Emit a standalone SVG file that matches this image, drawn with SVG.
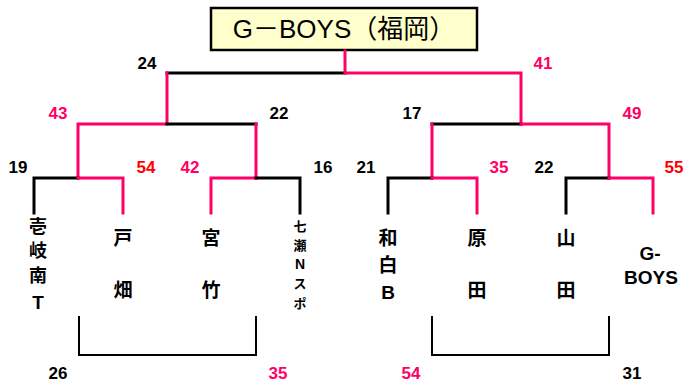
<svg xmlns="http://www.w3.org/2000/svg" width="684" height="385" viewBox="0 0 684 385">
<style>
.k{stroke:#000;stroke-width:3;fill:none;stroke-linecap:square}
.p{stroke:#FF0066;stroke-width:3;fill:none;stroke-linecap:square}
.t{stroke:#000;stroke-width:2;fill:none}
.n{font-family:"Liberation Sans","Noto Sans CJK JP",sans-serif;font-weight:bold;font-size:17px;text-anchor:middle}
.nk{fill:#000}.np{fill:#FF0066}.nr{fill:#FF0000}
.tm{font-family:"Noto Sans CJK JP","Liberation Sans",sans-serif;font-weight:bold;font-size:19px;text-anchor:middle;fill:#000}
.t1{font-family:"Noto Sans CJK JP","Liberation Sans",sans-serif;font-weight:bold;font-size:18px;text-anchor:middle;fill:#000}
.tl{font-family:"Liberation Sans",sans-serif;font-weight:bold;font-size:19px;text-anchor:middle;fill:#000}
.ts{font-family:"Noto Sans CJK JP","Liberation Sans",sans-serif;font-weight:bold;font-size:13px;text-anchor:middle;fill:#000}
.tsl{font-family:"Liberation Sans",sans-serif;font-weight:bold;font-size:14px;text-anchor:middle;fill:#000}
</style>
<g id="title">
<rect x="211" y="8" width="266" height="42" fill="#FFFFCC" stroke="#000" stroke-width="2.5"/>
<text x="344" y="38" font-family="Liberation Sans,Noto Sans CJK JP,sans-serif" font-size="26" text-anchor="middle" fill="#000">G－BOYS（福岡）</text>
</g>
<g id="connectors">
<path class="k" d="M167 73H345"/>
<path class="p" d="M345 51V73H521V124"/>
<path class="p" d="M167 73V124H78V178"/>
<path class="k" d="M167 124H256"/>
<path class="p" d="M256 124V178"/>
<path class="k" d="M34 213V178H78"/>
<path class="p" d="M78 178H123V213"/>
<path class="p" d="M211 213V178H256"/>
<path class="k" d="M256 178H300V213"/>
<path class="k" d="M432 124H521"/>
<path class="p" d="M432 178V124M521 124H609V178"/>
<path class="k" d="M388 213V178H432"/>
<path class="p" d="M432 178H477V213"/>
<path class="k" d="M566 213V178H609"/>
<path class="p" d="M609 178H653V213"/>
<path class="t" d="M79 316V355H256V316"/>
<path class="t" d="M432 316V355H609V316"/>
</g>
<g id="scores">
<text class="n nk" x="147" y="69">24</text>
<text class="n np" x="543" y="69">41</text>
<text class="n np" x="58" y="119">43</text>
<text class="n nk" x="279" y="119">22</text>
<text class="n nk" x="412" y="119">17</text>
<text class="n np" x="632" y="119">49</text>
<text class="n nk" x="18" y="173">19</text>
<text class="n nr" x="146" y="173">54</text>
<text class="n np" x="190" y="173">42</text>
<text class="n nk" x="323" y="173">16</text>
<text class="n nk" x="366" y="173">21</text>
<text class="n np" x="499" y="173">35</text>
<text class="n nk" x="544" y="173">22</text>
<text class="n nr" x="674" y="173">55</text>
<text class="n nk" x="58" y="379">26</text>
<text class="n np" x="278" y="379">35</text>
<text class="n np" x="411" y="379">54</text>
<text class="n nk" x="632" y="379">31</text>
</g>
<g id="team1"><text class="t1" x="38" y="233">壱</text><text class="t1" x="38" y="257">岐</text><text class="t1" x="38" y="282">南</text><text class="tl" x="38" y="309">T</text></g>
<g id="team2"><text class="tm" x="123" y="245">戸</text><text class="tm" x="123" y="297">畑</text></g>
<g id="team3"><text class="tm" x="211" y="245">宮</text><text class="tm" x="211" y="297">竹</text></g>
<g id="team4"><text class="ts" x="300" y="231">七</text><text class="ts" x="300" y="250">瀬</text><text class="tsl" x="300" y="269">N</text><text class="ts" x="300" y="288">ス</text><text class="ts" x="300" y="308">ポ</text></g>
<g id="team5"><text class="tm" x="388" y="245">和</text><text class="tm" x="388" y="272">白</text><text class="tl" x="388" y="299">B</text></g>
<g id="team6"><text class="tm" x="477" y="245">原</text><text class="tm" x="477" y="297">田</text></g>
<g id="team7"><text class="tm" x="566" y="245">山</text><text class="tm" x="566" y="297">田</text></g>
<g id="team8"><text class="tl" x="650" y="260">G-</text><text class="tl" x="651" y="284">BOYS</text></g>
</svg>
